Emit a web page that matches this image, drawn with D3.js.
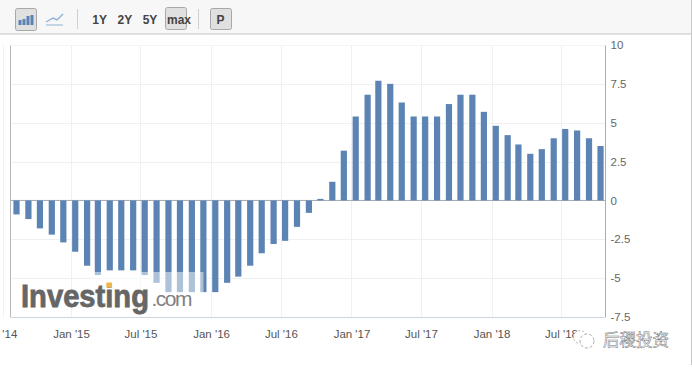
<!DOCTYPE html>
<html>
<head>
<meta charset="utf-8">
<script src="https://cdnjs.cloudflare.com/ajax/libs/d3/7.8.5/d3.min.js"></script>
<style>
  html, body { margin: 0; padding: 0; background: #fff; overflow: hidden; }
  svg { display: block; }
  text { font-family: "Liberation Sans", Arial, sans-serif; }
</style>
</head>
<body>
<div id="app"></div>
<script>
// 1. Data
const months = [
  '2014-08', '2014-09', '2014-10', '2014-11', '2014-12',
  '2015-01', '2015-02', '2015-03', '2015-04', '2015-05', '2015-06',
  '2015-07', '2015-08', '2015-09', '2015-10', '2015-11', '2015-12',
  '2016-01', '2016-02', '2016-03', '2016-04', '2016-05', '2016-06',
  '2016-07', '2016-08', '2016-09', '2016-10', '2016-11', '2016-12',
  '2017-01', '2017-02', '2017-03', '2017-04', '2017-05', '2017-06',
  '2017-07', '2017-08', '2017-09', '2017-10', '2017-11', '2017-12',
  '2018-01', '2018-02', '2018-03', '2018-04', '2018-05', '2018-06',
  '2018-07', '2018-08', '2018-09', '2018-10'
];
const values = [
  -0.9, -1.2, -1.8, -2.2, -2.7,
  -3.3, -4.2, -4.8, -4.5, -4.5, -4.5,
  -4.8, -5.3, -5.9, -5.9, -5.9, -5.9,
  -5.9, -5.3, -4.9, -4.2, -3.4, -2.8,
  -2.6, -1.7, -0.8, 0.1, 1.2, 3.2,
  5.4, 6.8, 7.7, 7.5, 6.3, 5.4,
  5.4, 5.4, 6.2, 6.8, 6.8, 5.7,
  4.8, 4.2, 3.6, 3.0, 3.3, 4.0,
  4.6, 4.5, 4.0, 3.5
];
const xTickMonths = ['2014-07', '2015-01', '2015-07', '2016-01', '2016-07', '2017-01', '2017-07', '2018-01', '2018-07'];
const yTicks = [-7.5, -5, -2.5, 0, 2.5, 5, 7.5, 10];
const rangeButtons = ['1Y', '2Y', '5Y', 'max'];

// 2. Dimensions
const width = 692;
const height = 369;
const plot = { left: 10.5, right: 605.5, top: 45, bottom: 317 };

const parseMonth = d3.timeParse('%Y-%m');
const parseDay = d3.timeParse('%Y-%m-%d');
const barDate = m => parseDay(m + '-12');

// 3. Canvas
const svg = d3.select('#app')
  .append('svg')
    .attr('width', width)
    .attr('height', height);

// 4. Scales
const xScale = d3.scaleTime()
  .domain([parseMonth('2015-01'), parseMonth('2018-07')])
  .range([71, 561]);
const yScale = d3.scaleLinear()
  .domain([-7.5, 10])
  .range([plot.bottom, plot.top]);

// 5. Grid
const grid = svg.append('g');
grid.selectAll('line.h')
  .data(yTicks.filter(d => d !== 0 && d !== -7.5))
  .join('line')
    .attr('class', 'h')
    .attr('x1', plot.left).attr('x2', plot.right)
    .attr('y1', d => Math.round(yScale(d)) + 0.5)
    .attr('y2', d => Math.round(yScale(d)) + 0.5)
    .attr('stroke', '#eef0f3');
grid.selectAll('line.v')
  .data(xTickMonths.slice(1))
  .join('line')
    .attr('class', 'v')
    .attr('x1', d => Math.round(xScale(parseMonth(d))) + 0.5)
    .attr('x2', d => Math.round(xScale(parseMonth(d))) + 0.5)
    .attr('y1', plot.top).attr('y2', plot.bottom)
    .attr('stroke', '#eef0f3');

// 6. Bars
const bars = months.map((m, i) => ({ date: barDate(m), value: values[i] }));
const zeroY = yScale(0);
svg.append('line')
  .attr('x1', plot.left).attr('x2', plot.right)
  .attr('y1', zeroY).attr('y2', zeroY)
  .attr('stroke', '#a5a9af');
svg.append('g').selectAll('rect')
  .data(bars)
  .join('rect')
    .attr('x', d => xScale(d.date) - 3.1)
    .attr('width', 6.2)
    .attr('y', d => Math.min(yScale(d.value), zeroY))
    .attr('height', d => Math.abs(yScale(d.value) - zeroY))
    .attr('fill', '#5b83b3');

// 7. Axes
const xAxis = svg.append('g')
  .attr('transform', `translate(0,${plot.bottom})`)
  .call(d3.axisBottom(xScale)
    .tickValues(xTickMonths.map(parseMonth))
    .tickFormat(d3.timeFormat("%b '%y"))
    .tickSize(0)
    .tickPadding(13));
xAxis.select('.domain').remove();
xAxis.selectAll('text').attr('font-size', 11.5).attr('fill', '#555')
  .style('font-family', '"Liberation Sans", Arial, sans-serif');

const yAxis = svg.append('g')
  .attr('transform', `translate(${plot.right},0)`)
  .call(d3.axisRight(yScale)
    .tickValues(yTicks)
    .tickFormat(d => d)
    .tickSize(0)
    .tickPadding(5));
yAxis.select('.domain').remove();
yAxis.selectAll('text').attr('font-size', 11.5).attr('fill', '#666')
  .style('font-family', '"Liberation Sans", Arial, sans-serif');

// plot frame
svg.append('line')
  .attr('x1', plot.left).attr('x2', plot.left)
  .attr('y1', plot.top).attr('y2', plot.bottom)
  .attr('stroke', '#b5b8bd');
svg.append('line')
  .attr('x1', plot.right).attr('x2', plot.right)
  .attr('y1', plot.top).attr('y2', plot.bottom)
  .attr('stroke', '#a9acb0');
svg.append('line')
  .attr('x1', plot.left).attr('x2', plot.right)
  .attr('y1', plot.bottom + 0.5).attr('y2', plot.bottom + 0.5)
  .attr('stroke', '#ccd6e3');
svg.append('line')
  .attr('x1', plot.left).attr('x2', plot.right)
  .attr('y1', plot.top + 0.5).attr('y2', plot.top + 0.5)
  .attr('stroke', '#f2f3f5');
svg.append('line')
  .attr('x1', 3.5).attr('x2', 3.5)
  .attr('y1', 45).attr('y2', 317)
  .attr('stroke', '#f0f0f0');

// 8. Watermark
svg.append('rect')
  .attr('x', 94).attr('y', 272)
  .attr('width', 109.5).attr('height', 22)
  .attr('fill', '#fff').attr('opacity', 0.5);
const logo = svg.append('g');
logo.append('text')
  .attr('x', 21).attr('y', 306.5)
  .attr('font-size', 31).attr('font-weight', 700)
  .attr('fill', '#666')
  .attr('stroke', '#666').attr('stroke-width', 0.8)
  .attr('textLength', 128).attr('lengthAdjust', 'spacingAndGlyphs')
  .text('Investing');
logo.append('rect')
  .attr('x', 106.5).attr('y', 282.5)
  .attr('width', 5.5).attr('height', 5)
  .attr('fill', '#f0b44c');
logo.append('text')
  .attr('x', 151.5).attr('y', 306)
  .attr('font-size', 21)
  .attr('fill', '#808080')
  .attr('textLength', 41)
  .text('.com');

// 9. Toolbar
const bar = svg.append('g');
bar.append('rect')
  .attr('width', width).attr('height', 34)
  .attr('fill', '#f7f7f7');
bar.append('line')
  .attr('x1', 0).attr('x2', width)
  .attr('y1', 34).attr('y2', 34)
  .attr('stroke', '#c4c4c4');

const buttonBox = (x, y, w, h) => bar.append('rect')
  .attr('x', x).attr('y', y)
  .attr('width', w).attr('height', h)
  .attr('rx', 2)
  .attr('fill', '#e0e0e0')
  .attr('stroke', '#a8a8a8');

buttonBox(15.5, 8.5, 21, 22);
bar.append('g').selectAll('rect')
  .data([[18.5, 5], [22.5, 6], [26.5, 9], [30.5, 10]])
  .join('rect')
    .attr('x', d => d[0]).attr('width', 3)
    .attr('y', d => 25 - d[1]).attr('height', d => d[1])
    .attr('fill', '#5b83b3');
bar.append('path')
  .attr('d', d3.line()([[46, 22], [53, 18], [57, 20], [63, 14]]))
  .attr('fill', 'none').attr('stroke', '#8fb0d3').attr('stroke-width', 1.4);
bar.append('path')
  .attr('d', d3.line()([[46, 25], [63, 25]]))
  .attr('fill', 'none').attr('stroke', '#b5cbe0').attr('stroke-width', 1.6);

bar.selectAll('line.sep')
  .data([77.5, 198.5])
  .join('line')
    .attr('class', 'sep')
    .attr('x1', d => d).attr('x2', d => d)
    .attr('y1', 9).attr('y2', 29)
    .attr('stroke', '#cfcfcf');

buttonBox(165.5, 7.5, 21, 22);
buttonBox(210.5, 8.5, 21, 21);
bar.selectAll('text.range')
  .data(rangeButtons)
  .join('text')
    .attr('class', 'range')
    .attr('x', (d, i) => [99.7, 124.8, 150, 179][i])
    .attr('y', 24)
    .attr('text-anchor', 'middle')
    .attr('font-size', 12)
    .attr('font-weight', 700)
    .attr('fill', '#444')
    .text(d => d);
bar.append('text')
  .attr('x', 220.5).attr('y', 24)
  .attr('text-anchor', 'middle')
  .attr('font-size', 12).attr('font-weight', 700)
  .attr('fill', '#444')
  .text('P');

// 10. Right edge and stamp
svg.append('line')
  .attr('x1', 691.5).attr('x2', 691.5)
  .attr('y1', 0).attr('y2', 365)
  .attr('stroke', '#c8c8c8');
const stamp = svg.append('g');
stamp.append('circle').attr('cx', 580).attr('cy', 337).attr('r', 6.5)
  .attr('fill', '#fff').attr('stroke', '#bbb').attr('stroke-dasharray', '2 2');
stamp.append('circle').attr('cx', 587).attr('cy', 341).attr('r', 7)
  .attr('fill', '#fff').attr('stroke', '#aaa').attr('stroke-dasharray', '3 2');
stamp.append('text')
  .attr('x', 603).attr('y', 346)
  .attr('font-size', 16.5)
  .attr('fill', '#fff')
  .attr('stroke', '#777')
  .attr('stroke-width', 0.5)
  .style('font-family', '"Noto Sans CJK SC"')
  .text('后稷投资');
</script>
</body>
</html>
